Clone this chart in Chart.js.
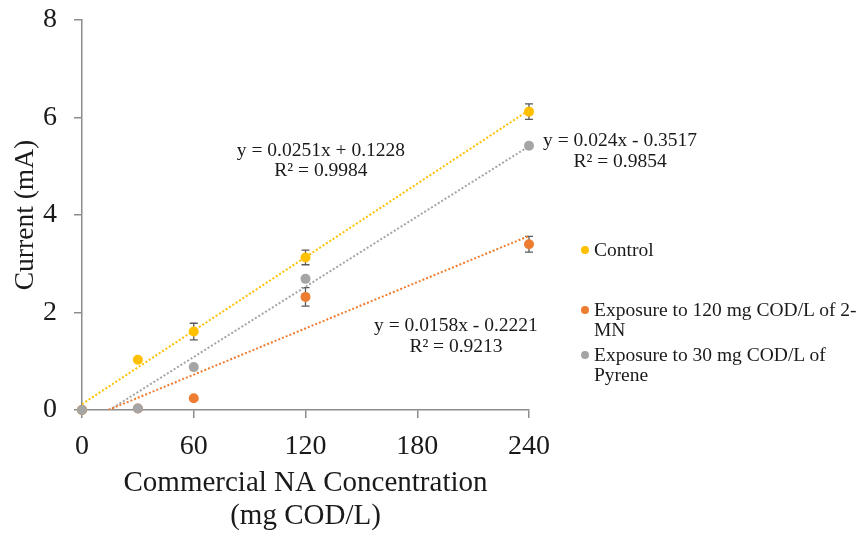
<!DOCTYPE html>
<html>
<head>
<meta charset="utf-8">
<script src="https://cdn.jsdelivr.net/npm/chart.js@4"></script>
<style>
    body { margin: 0; background: #fff; }
    #wrap { position: relative; width: 862px; height: 533px; }
    #chart { position: absolute; left: 0; top: 0; }
    .legend-item {
        position: absolute;
        left: 577px;
        width: 270px;
        font-family: "Liberation Serif", "Times New Roman", serif;
        font-size: 19.5px;
        line-height: 20px;
        color: #1a1a1a;
        padding-left: 17px;
    }
    .legend-dot {
        position: absolute;
        left: 4px;
        top: 6px;
        width: 8px;
        height: 8px;
        border-radius: 50%;
    }
</style>
</head>
<body>
<div id="wrap">
    <canvas id="chart" width="862" height="533"></canvas>
    <div id="legend"></div>
</div>
<script>
// x values (mg COD/L)
const concentrations = [0, 30, 60, 120, 240];

// current (mA) for each series
const controlValues = [0, 1.03, 1.61, 3.13, 6.12];
const mnValues = [0, 0.03, 0.24, 2.32, 3.40];
const pyreneValues = [0, 0.03, 0.88, 2.69, 5.42];

// error bar half-heights
const controlErrors = [0, 0, 0.17, 0.15, 0.16];
const mnErrors = [0, 0, 0, 0.19, 0.16];
const pyreneErrors = [0, 0, 0, 0, 0];

// trendline end points
const controlTrendX = [0, 240];
const controlTrendY = [0.12, 6.15];
const mnTrendX = [14.1, 240];
const mnTrendY = [0, 3.57];
const pyreneTrendX = [14.7, 240];
const pyreneTrendY = [0, 5.41];

// axis ticks
const xTicks = [0, 60, 120, 180, 240];
const yTicks = [0, 2, 4, 6, 8];

// trendline equations
const equations = [
    { lines: ['y = 0.0251x + 0.1228', 'R\u00B2 = 0.9984'], x: 128.3, y: 5.32 },
    { lines: ['y = 0.024x - 0.3517', 'R\u00B2 = 0.9854'], x: 288.9, y: 5.52 },
    { lines: ['y = 0.0158x - 0.2221', 'R\u00B2 = 0.9213'], x: 200.8, y: 1.72 }
];

const colors = {
    control: '#FFC000',
    mn: '#ED7D31',
    pyrene: '#A5A5A5'
};

const serif = '"Liberation Serif", "Times New Roman", serif';
const textColor = '#1a1a1a';
const axisColor = '#8c8c8c';

function toPoints(xs, ys) {
    return xs.map((x, i) => ({ x: x, y: ys[i] }));
}

function scatterSet(label, ys, errors, color, order) {
    return {
        type: 'scatter',
        label: label,
        data: toPoints(concentrations, ys),
        errors: errors,
        backgroundColor: color,
        borderColor: color,
        pointRadius: 5,
        pointHoverRadius: 5,
        borderWidth: 0,
        clip: false,
        order: order
    };
}

function trendSet(xs, ys, color) {
    return {
        type: 'line',
        label: 'trend',
        data: toPoints(xs, ys),
        borderColor: color,
        borderWidth: 2,
        borderDash: [2, 2],
        pointRadius: 0,
        fill: false,
        tension: 0,
        order: 10,
        isTrend: true
    };
}

// Error bars drawn under the markers
const errorBarPlugin = {
    id: 'errorBars',
    beforeDatasetsDraw(chart) {
        const ctx = chart.ctx;
        const xs = chart.scales.x;
        const ys = chart.scales.y;
        ctx.save();
        ctx.strokeStyle = '#595959';
        ctx.lineWidth = 1.3;
        chart.data.datasets.forEach(ds => {
            if (!ds.errors) return;
            ds.data.forEach((p, i) => {
                const e = ds.errors[i];
                if (!e) return;
                const px = xs.getPixelForValue(p.x);
                const top = ys.getPixelForValue(p.y + e);
                const bot = ys.getPixelForValue(p.y - e);
                ctx.beginPath();
                ctx.moveTo(px, top);
                ctx.lineTo(px, bot);
                ctx.moveTo(px - 4, top);
                ctx.lineTo(px + 4, top);
                ctx.moveTo(px - 4, bot);
                ctx.lineTo(px + 4, bot);
                ctx.stroke();
            });
        });
        ctx.restore();
    }
};

// Trendline equation labels
const equationPlugin = {
    id: 'equations',
    afterDatasetsDraw(chart) {
        const ctx = chart.ctx;
        ctx.save();
        ctx.font = '19.5px ' + serif;
        ctx.fillStyle = textColor;
        ctx.textAlign = 'center';
        ctx.textBaseline = 'middle';
        equations.forEach(eq => {
            const px = chart.scales.x.getPixelForValue(eq.x);
            const py = chart.scales.y.getPixelForValue(eq.y);
            eq.lines.forEach((line, i) => {
                ctx.fillText(line, px, py + i * 20.5);
            });
        });
        ctx.restore();
    }
};

const chart = new Chart(document.getElementById('chart'), {
    data: {
        datasets: [
            scatterSet('Control', controlValues, controlErrors, colors.control, 3),
            scatterSet('Exposure to 120 mg COD/L of 2-MN', mnValues, mnErrors, colors.mn, 2),
            scatterSet('Exposure to 30 mg COD/L of Pyrene', pyreneValues, pyreneErrors, colors.pyrene, 1),
            trendSet(controlTrendX, controlTrendY, colors.control),
            trendSet(mnTrendX, mnTrendY, colors.mn),
            trendSet(pyreneTrendX, pyreneTrendY, colors.pyrene)
        ]
    },
    options: {
        responsive: false,
        animation: false,
        layout: {
            padding: { top: 20, right: 333, bottom: 0, left: 0 }
        },
        plugins: {
            legend: { display: false },
            tooltip: { enabled: false }
        },
        scales: {
            x: {
                type: 'linear',
                min: 0,
                max: 240,
                afterBuildTicks: scale => {
                    scale.ticks = xTicks.map(v => ({ value: v }));
                },
                afterFit: scale => { scale.height = 123; },
                ticks: {
                    font: { family: serif, size: 28 },
                    color: textColor,
                    padding: 12
                },
                grid: {
                    drawOnChartArea: false,
                    drawTicks: true,
                    tickLength: 8,
                    color: axisColor,
                    lineWidth: 1.5
                },
                border: { color: axisColor, width: 1.5 },
                title: {
                    display: true,
                    text: ['Commercial NA Concentration', '(mg COD/L)'],
                    font: { family: serif, size: 29, lineHeight: 1.15 },
                    color: textColor,
                    padding: { top: 0, bottom: 0 }
                }
            },
            y: {
                type: 'linear',
                min: 0,
                max: 8,
                afterBuildTicks: scale => {
                    scale.ticks = yTicks.map(v => ({ value: v }));
                },
                afterFit: scale => {
                    scale.width = 82;
                    scale.paddingTop = 0;
                    scale.paddingBottom = 0;
                },
                ticks: {
                    font: { family: serif, size: 28 },
                    color: textColor,
                    padding: 17
                },
                grid: {
                    drawOnChartArea: false,
                    drawTicks: true,
                    tickLength: 8,
                    color: axisColor,
                    lineWidth: 1.5
                },
                border: { color: axisColor, width: 1.5 },
                title: {
                    display: true,
                    text: 'Current (mA)',
                    font: { family: serif, size: 27.5, lineHeight: 1.2 },
                    color: textColor,
                    padding: { top: 9, bottom: 0 }
                }
            }
        }
    },
    plugins: [errorBarPlugin, equationPlugin]
});

// Legend built from the scatter datasets
function loadLegend() {
    const container = document.getElementById('legend');
    const tops = [240, 300, 345];
    container.innerHTML = '';
    chart.data.datasets.filter(ds => !ds.isTrend).forEach((ds, i) => {
        const item = document.createElement('div');
        item.className = 'legend-item';
        item.style.top = tops[i] + 'px';
        item.innerHTML = `<span class="legend-dot" style="background:${ds.backgroundColor}"></span>${ds.label}`;
        container.appendChild(item);
    });
}
loadLegend();
</script>
</body>
</html>
